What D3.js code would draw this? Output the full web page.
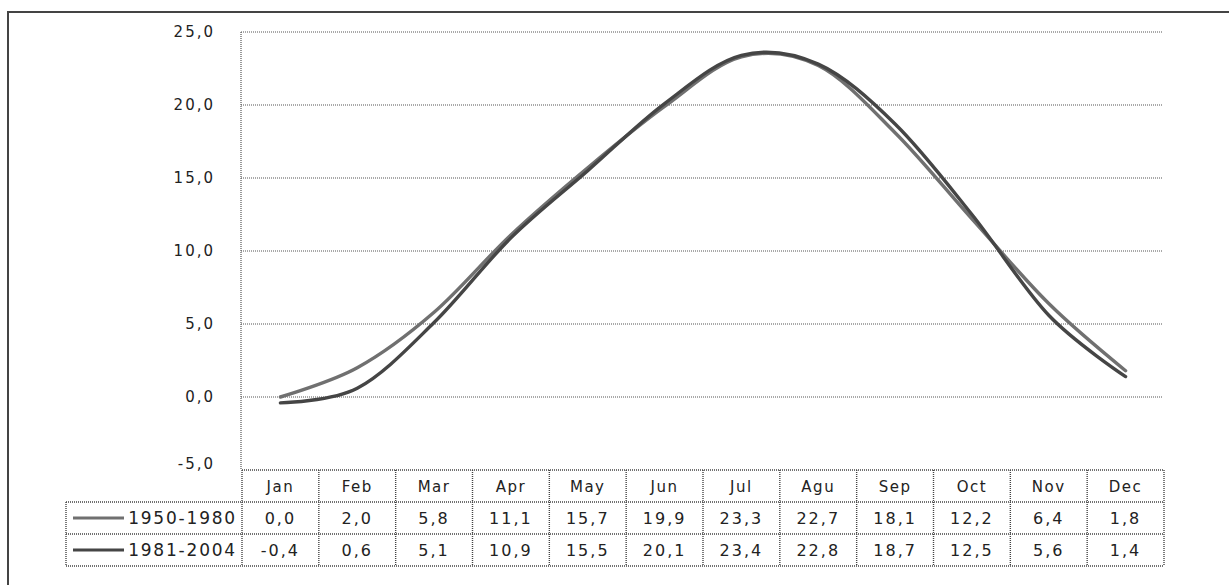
<!DOCTYPE html>
<html><head><meta charset="utf-8">
<script src="https://cdn.jsdelivr.net/npm/d3@7"></script>
<style>
html,body{margin:0;padding:0;background:#fff;}
svg{display:block;}
text{fill:#222;}
</style></head>
<body>
<svg id="chart" width="1229" height="585"></svg>
<script>
const months = ["Jan","Feb","Mar","Apr","May","Jun","Jul","Agu","Sep","Oct","Nov","Dec"];
const seriesNames = ["1950-1980","1981-2004"];
const s1950 = [0.0,2.0,5.8,11.1,15.7,19.9,23.3,22.7,18.1,12.2,6.4,1.8];
const s1981 = [-0.4,0.6,5.1,10.9,15.5,20.1,23.4,22.8,18.7,12.5,5.6,1.4];
const yTicks = [-5,0,5,10,15,20,25];

const series = [
  {name: seriesNames[0], values: s1950, color: "#707070"},
  {name: seriesNames[1], values: s1981, color: "#454545"}
];

const svg = d3.select("#chart");
const fmt = v => d3.format(".1f")(v).replace(".", ",").replace("−","-");

// outer frame
svg.append("rect").attr("x",8).attr("y",12).attr("width",1240).attr("height",600)
  .attr("fill","none").attr("stroke","#444").attr("stroke-width",2);

const x = d3.scaleBand().domain(months).range([242,1164]);
const y = d3.scaleLinear().domain([-5,25]).range([470,32]);

const dot = "1,1";
const gridColor = "#555";

// gridlines
svg.append("g").selectAll("line").data(yTicks.filter(t=>t>-5)).join("line")
  .attr("x1",241).attr("x2",1162)
  .attr("y1",d=>y(d)).attr("y2",d=>y(d))
  .attr("stroke",gridColor).attr("stroke-dasharray",dot).attr("stroke-width",1.2);

// y axis line
svg.append("line").attr("x1",241).attr("x2",241).attr("y1",y(25)).attr("y2",y(-5))
  .attr("stroke",gridColor).attr("stroke-dasharray",dot).attr("stroke-width",1.2);

// y labels
svg.append("g").selectAll("text").data(yTicks).join("text")
  .attr("x",215).attr("y",d=>y(d) - (d===-5?6:0)).attr("dy","0.35em")
  .attr("text-anchor","end")
  .style("font-family","'DejaVu Sans', Verdana, sans-serif").style("font-size","15px")
  .style("letter-spacing","2px")
  .text(d=>fmt(d));

// lines
const line = d3.line()
  .x((d,i)=>x(months[i]) + x.bandwidth()/2)
  .y(d=>y(d))
  .curve(d3.curveCardinal.tension(0));

svg.append("g").selectAll("path").data(series).join("path")
  .attr("d",d=>line(d.values))
  .attr("fill","none").attr("stroke",d=>d.color).attr("stroke-width",3.4)
  .attr("stroke-linecap","round");

// data table
const rowTop = [470, 502, 534];
const rowH = 32;
const tableBottom = 566;
const legendLeft = 66;
const tg = svg.append("g");
const tline = (x1,y1,x2,y2) => tg.append("line").attr("x1",x1).attr("y1",y1).attr("x2",x2).attr("y2",y2)
  .attr("stroke","#444").attr("stroke-dasharray",dot).attr("stroke-width",1.4);

tline(242,rowTop[0],1164,rowTop[0]);
tline(legendLeft,rowTop[1],1164,rowTop[1]);
tline(legendLeft,rowTop[2],1164,rowTop[2]);
tline(legendLeft,tableBottom,1164,tableBottom);
tline(legendLeft,rowTop[1],legendLeft,tableBottom);
months.forEach(m=>tline(x(m),rowTop[0],x(m),tableBottom));
tline(1164,rowTop[0],1164,tableBottom);

const tfont = "'DejaVu Sans', Verdana, sans-serif";
tg.selectAll("text.h").data(months).join("text").attr("class","h")
  .attr("x",d=>x(d)+x.bandwidth()/2).attr("y",rowTop[0]+rowH/2+1).attr("dy","0.35em")
  .attr("text-anchor","middle").style("font-family",tfont).style("font-size","15px")
  .style("letter-spacing","1.5px")
  .text(d=>d);

series.forEach((s,si)=>{
  const cy = rowTop[si+1] + rowH/2;
  tg.append("line").attr("x1",73).attr("x2",124).attr("y1",cy).attr("y2",cy)
    .attr("stroke",s.color).attr("stroke-width",3);
  tg.append("text").attr("x",237).attr("y",cy).attr("dy","0.35em").attr("text-anchor","end")
    .style("font-family",tfont).style("font-size","17px").style("letter-spacing","1.8px").text(s.name);
  tg.selectAll(null).data(s.values).join("text")
    .attr("x",(d,i)=>x(months[i])+x.bandwidth()/2).attr("y",cy).attr("dy","0.35em")
    .attr("text-anchor","middle").style("font-family",tfont).style("font-size","16px")
    .style("letter-spacing","2px")
    .text(d=>fmt(d));
});
</script>
</body></html>
